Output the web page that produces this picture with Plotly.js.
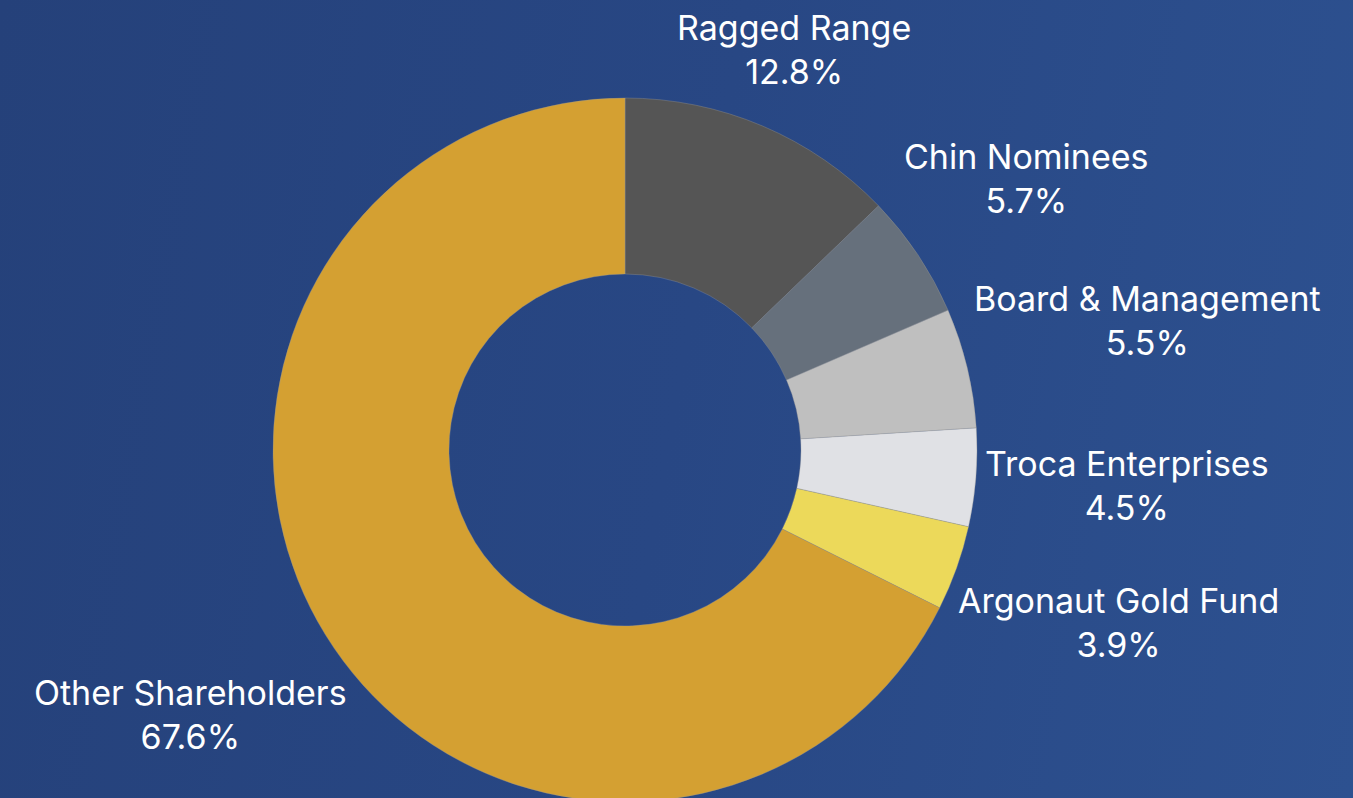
<!DOCTYPE html>
<html>
<head>
<meta charset="utf-8">
<script src="https://cdn.plot.ly/plotly-3.0.1.min.js"></script>
<style>
html, body { margin: 0; padding: 0; width: 1353px; height: 798px; overflow: hidden;
  background: linear-gradient(100deg, #25417a 0%, #284784 50%, #2d5190 100%); }
#chart { width: 1353px; height: 900px; }
</style>
</head>
<body>
<div id="chart"></div>
<script>
const labels = ["Ragged Range", "Chin Nominees", "Board & Management", "Troca Enterprises", "Argonaut Gold Fund", "Other Shareholders"];
const shares = [12.8, 5.7, 5.5, 4.5, 3.9, 67.6];
const colors = ["#555555", "#66707c", "#bfbfbf", "#e0e1e5", "#ecd95a", "#d4a032"];

const H = 900, W = 1353;
const cx = 625, cyTop = 450, R = 352;
const FONT = "Inter, 'Noto Sans', sans-serif";
const FS = 34;

const trace = {
  type: "pie",
  labels: labels,
  values: shares,
  hole: 0.5,
  sort: false,
  direction: "clockwise",
  rotation: 0,
  marker: { colors: colors, line: { color: "rgba(150,150,150,0.6)", width: 0.6 } },
  textinfo: "none",
  domain: { x: [(cx - R) / W, (cx + R) / W], y: [(H - cyTop - R) / H, (H - cyTop + R) / H] },
  showlegend: false,
  hoverinfo: "none"
};

// place labels radially outside each slice, from the slice's mid angle
const ctx = document.createElement("canvas").getContext("2d");
ctx.font = FS + "px Inter";
const total = shares.reduce((a, b) => a + b, 0);
const boxH = 80, target = R + 8;
function nearestDist(px, py, hw, hh) {
  const nx = Math.max(px - hw, Math.min(0, px + hw));
  const ny = Math.max(py - hh, Math.min(0, py + hh));
  return Math.hypot(nx, ny);
}
let cum = 0;
const annotations = labels.map((lab, i) => {
  const mid = (cum + shares[i] / 2) / total * 2 * Math.PI;
  cum += shares[i];
  const txt2 = shares[i].toFixed(1) + "%";
  const w = Math.max(ctx.measureText(lab).width, ctx.measureText(txt2).width);
  const ux = Math.sin(mid), uy = -Math.cos(mid);
  let lo = 0, hi = 1500;
  for (let k = 0; k < 60; k++) {
    const d = (lo + hi) / 2;
    if (nearestDist(d * ux, d * uy, w / 2, boxH / 2) < target) lo = d; else hi = d;
  }
  const d = (lo + hi) / 2;
  const px = cx + d * ux, py = cyTop + d * uy;
  return {
    xref: "paper", yref: "paper",
    x: px / W, y: 1 - py / H,
    xanchor: "center", yanchor: "middle", align: "center",
    yshift: 4,
    showarrow: false,
    text: lab + "<br>" + txt2,
    font: { family: FONT, size: FS, color: "#ffffff" }
  };
});

Plotly.newPlot("chart", [trace], {
  width: W, height: H,
  margin: { l: 0, r: 0, t: 0, b: 0 },
  paper_bgcolor: "rgba(0,0,0,0)",
  plot_bgcolor: "rgba(0,0,0,0)",
  showlegend: false,
  annotations: annotations
}, { displayModeBar: false, staticPlot: true });
</script>
</body>
</html>
